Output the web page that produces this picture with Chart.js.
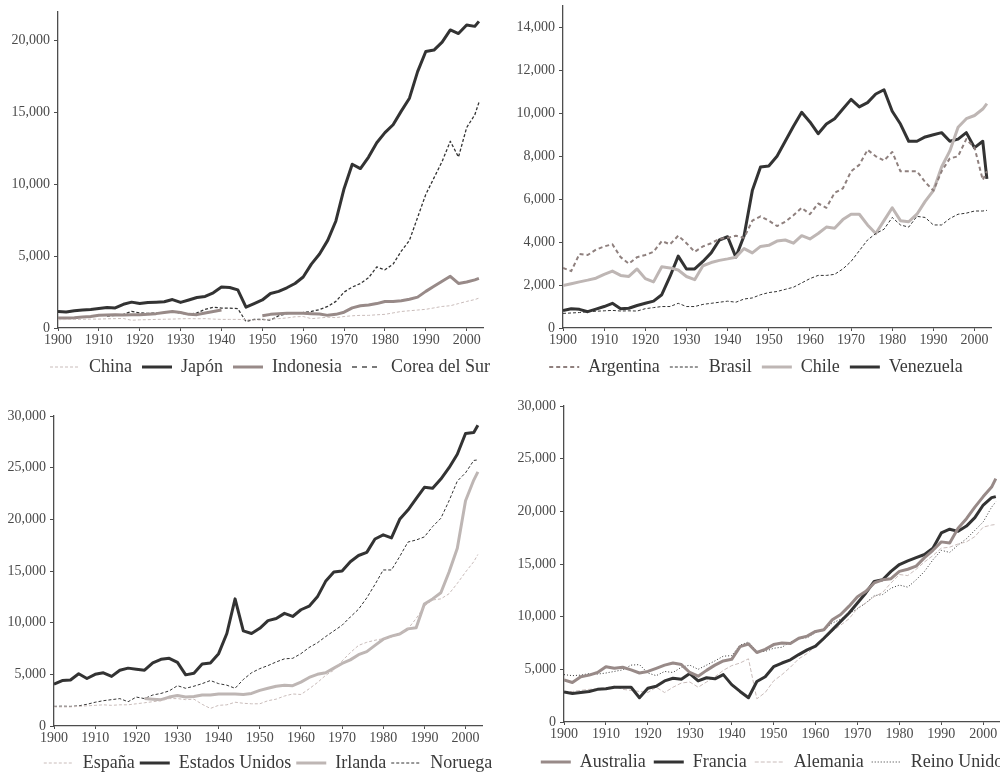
<!DOCTYPE html>
<html lang="es">
<head>
<meta charset="UTF-8">
<title>PIB per cápita, 1900-2003</title>
<script src="https://cdn.jsdelivr.net/npm/chart.js"></script>
<style>
  body { margin: 0; background: #fff; width: 1000px; height: 773px; overflow: hidden; position: relative; }
  canvas { position: absolute; }
</style>
</head>
<body>
<canvas id="asia"></canvas>
<canvas id="latam"></canvas>
<canvas id="anglo"></canvas>
<canvas id="europa"></canvas>
<script>
// years shared by every series (two-year steps, last point 2003)
const years = [1900,1902,1904,1906,1908,1910,1912,1914,1916,1918,
  1920,1922,1924,1926,1928,1930,1932,1934,1936,1938,
  1940,1942,1944,1946,1948,1950,1952,1954,1956,1958,
  1960,1962,1964,1966,1968,1970,1972,1974,1976,1978,
  1980,1982,1984,1986,1988,1990,1992,1994,1996,1998,
  2000,2002,2003];

// tick labels
const decadeTicks = [1900,1910,1920,1930,1940,1950,1960,1970,1980,1990,2000];
const asiaTicks = [0,5000,10000,15000,20000];
const latamTicks = [0,2000,4000,6000,8000,10000,12000,14000];
const richTicks = [0,5000,10000,15000,20000,25000,30000];

// --- panel 1
const china = [580,590,600,610,620,620,640,650,660,540, 570,580,600,610,620,640,650,640,650,620,
  600,600,600,580,560,560,620,650,700,780, 800,650,700,750,720,800,850,880,880,920,
  950,1050,1150,1200,1250,1300,1400,1500,1550,1700, 1850,1980,2080];
const japon = [1150,1120,1200,1250,1290,1350,1420,1400,1650,1800, 1700,1780,1800,1830,1980,1780,1950,2120,2200,2450,
  2850,2820,2650,1450,1700,1950,2400,2550,2800,3100, 3550,4450,5150,6100,7450,9700,11400,11100,11900,12900,
  13600,14150,15100,16000,17850,19250,19350,19900,20750,20500, 21100,21000,21350];
const indonesia = [690,700,720,760,800,880,900,920,900,920, 930,950,1000,1080,1150,1080,950,930,1050,1150,
  1250,null,null,null,null,850,950,1000,1020,1020, 1030,1000,980,880,950,1100,1400,1550,1600,1700,
  1850,1850,1900,2000,2150,2550,2900,3250,3600,3100, 3200,3350,3450];
const corea = [null,null,null,null,null,null,830,880,950,1150, 1050,1020,1040,1080,1150,1040,950,1050,1300,1450,
  1380,1380,1350,450,600,600,550,850,1000,1050, 1080,1150,1280,1500,1850,2500,2850,3100,3500,4250,
  4050,4450,5350,6100,7700,9300,10450,11600,13000,11900, 13950,14850,15700];

// --- panel 2
const argentina = [2800,2650,3450,3400,3650,3800,3900,3300,3000,3300, 3400,3550,4050,3900,4300,3950,3550,3800,3950,4150,
  4200,4300,4200,5000,5200,5000,4750,4950,5250,5600, 5300,5800,5600,6300,6500,7300,7600,8300,8000,7800,
  8200,7300,7300,7300,6800,6400,7300,7900,8000,8800, 8400,6900,7300];
const brasil = [680,700,720,760,780,800,820,790,800,790, 900,950,1000,1000,1150,1000,1000,1100,1150,1200,
  1250,1200,1350,1400,1550,1650,1700,1800,1900,2100, 2300,2450,2450,2500,2750,3100,3600,4100,4400,4600,
  5150,4800,4700,5200,5150,4800,4800,5100,5300,5350, 5450,5450,5480];
const chile = [1975,2060,2150,2230,2320,2500,2650,2450,2400,2750, 2300,2150,2850,2800,2700,2400,2250,2900,3050,3150,
  3220,3300,3700,3500,3800,3850,4050,4100,3950,4300, 4150,4400,4700,4650,5050,5300,5300,4800,4400,5000,
  5600,5000,4950,5300,5900,6400,7500,8250,9350,9750, 9900,10200,10450];
const venezuela = [810,900,870,760,880,1000,1150,900,920,1050, 1150,1250,1550,2400,3350,2750,2750,3100,3500,4100,
  4250,3300,4300,6400,7500,7550,8000,8700,9400,10050, 9600,9050,9500,9750,10200,10650,10300,10500,10900,11100,
  10100,9500,8700,8700,8900,9000,9100,8700,8800,9100, 8400,8700,6950];

// --- panel 3
const espana = [1850,1850,1850,1900,1950,2000,2050,2000,2050,2050, 2150,2250,2350,2450,2650,2650,2550,2600,2100,1700,
  2000,2050,2300,2200,2150,2150,2450,2600,2900,3100, 3050,3600,4200,4900,5400,6300,7100,7800,8100,8300,
  8450,8600,8900,9400,10400,11600,12200,12300,12800,13800, 14900,15900,16600];
const eeuu = [4050,4400,4450,5050,4600,5000,5150,4800,5400,5600, 5500,5400,6100,6450,6550,6150,4950,5100,6000,6100,
  7000,8950,12300,9200,8950,9450,10200,10400,10900,10600, 11250,11600,12500,14000,14900,15000,15900,16500,16800,18100,
  18500,18200,20000,20900,22000,23100,23000,23900,25000,26300, 28300,28400,29100];
const irlanda = [null,null,null,null,null,null,null,null,null,null, null,2650,2600,2550,2800,2950,2800,2850,3000,3000,
  3100,3100,3100,3050,3150,3450,3650,3850,3950,3900, 4250,4700,5000,5150,5600,6050,6400,6900,7200,7800,
  8400,8700,8900,9400,9500,11800,12300,12900,14900,17200, 21800,23800,24600];
const noruega = [1900,1920,1900,1950,2100,2300,2450,2550,2650,2350, 2800,2650,3000,3150,3400,3900,3650,3850,4100,4400,
  4100,3950,3650,4500,5150,5550,5850,6200,6500,6550, 7000,7600,8050,8650,9200,9750,10550,11300,12400,13700,
  15100,15100,16400,17800,18000,18300,19300,20100,21800,23700, 24500,25700,25750];

// --- panel 4
const australia = [4000,3750,4300,4450,4700,5250,5100,5200,4950,4650, 4800,5100,5400,5600,5450,4700,4350,4900,5400,5800,
  5950,7150,7400,6600,6900,7350,7500,7450,7950,8150, 8600,8750,9700,10200,11000,11900,12400,13200,13500,13600,
  14300,14500,14800,15600,16300,17100,17000,18400,19300,20400, 21400,22300,23100];
const francia = [2850,2700,2800,2900,3100,3150,3300,3300,3300,2300, 3200,3400,3900,4150,4050,4600,3900,4200,4100,4500,
  3550,2900,2300,3850,4300,5250,5600,5900,6400,6850, 7200,7950,8750,9550,10350,11300,12250,13350,13500,14300,
  14950,15300,15600,15900,16500,17950,18300,18100,18600,19400, 20600,21300,21400];
const alemania = [2900,2900,3000,3100,3150,3250,3400,3100,3000,2900, 2800,3300,2800,3300,3700,3800,3300,3800,4300,4900,
  5350,5600,6000,2200,2800,3900,4500,5200,6000,6500, 7200,7800,8600,9200,9800,10800,11300,11900,12300,13200,
  14000,13900,14500,15200,15800,16500,16600,16900,17100,17600, 18500,18700,18750];
const reinoUnido = [4500,4400,4450,4600,4550,4650,4800,4950,5400,5450, 4650,4400,4800,4700,5200,5400,5000,5400,5800,6250,
  6300,7300,7600,6700,6700,7000,7100,7600,7900,8000, 8500,8700,9400,9750,10300,10750,11300,12000,12100,12700,
  13000,12800,13500,14300,15400,16300,16100,16800,17400,18200, 19000,20400,20900];

const DARK = '#333333';
const TAUPE = '#988a88';
const LIGHT = '#beb6b4';
const PALE = '#c9bcba';
const INK = '#4a4a4a';

Chart.defaults.font.family = '"Liberation Serif", "Times New Roman", serif';
Chart.defaults.color = INK;

function line(label, values, color, width, dash, legendDash) {
  return {
    label: label,
    data: years.map((yr, i) => ({x: yr, y: values[i]})),
    yAxisID: 'y',
    borderColor: color,
    backgroundColor: color,
    borderWidth: width,
    borderDash: dash || [],
    legendDash: legendDash || dash || [],
    pointRadius: 0,
    tension: 0,
    fill: false,
    spanGaps: false,
    borderJoinStyle: 'round'
  };
}

function drawPanel(id, box, yMax, yTicks, datasets) {
  const fs = 18, pad = box.legendGap, half = 270;
  const cx = box.legendX - half;           // canvas left = legend box left
  const cy = box.top - 20;
  const axisW = box.left - cx;
  const rightW = box.legendX + half - box.right;
  const axisH = box.legendY - box.bottom - pad - fs / 2;
  const w = 2 * half;
  const hRaw = 20 + (box.bottom - box.top) + axisH + fs + pad + 10;
  const h = Math.ceil(hRaw);

  const canvas = document.getElementById(id);
  canvas.width = w;
  canvas.height = h;
  canvas.style.left = cx + 'px';
  canvas.style.top = cy + 'px';

  return new Chart(canvas, {
    type: 'line',
    data: { datasets: datasets },
    options: {
      responsive: false,
      animation: false,
      devicePixelRatio: 1,
      events: [],
      layout: { padding: { left: 0, right: 0, top: 20, bottom: h - hRaw } },
      scales: {
        x: {
          type: 'linear',
          min: 1900,
          max: 2004,
          border: { color: '#4d4d4d', width: 1.3 },
          grid: { drawOnChartArea: false, tickLength: 3, color: '#4d4d4d' },
          ticks: { padding: 1, font: { size: 14 }, color: INK, maxRotation: 0, autoSkip: false,
                   callback: v => String(v) },
          afterBuildTicks: s => { s.ticks = decadeTicks.map(v => ({ value: v })); },
          afterFit: s => { s.height = axisH; }
        },
        y: {
          type: 'linear',
          min: 0,
          max: yMax,
          border: { color: '#4d4d4d', width: 1.3 },
          grid: { drawOnChartArea: false, tickLength: 4, color: '#4d4d4d' },
          ticks: { padding: 4, font: { size: 14 }, color: INK, autoSkip: false,
                   callback: v => v.toLocaleString('en-US') },
          afterBuildTicks: s => { s.ticks = yTicks.map(v => ({ value: v })); },
          afterFit: s => { s.width = axisW; }
        },
        spacer: {
          type: 'linear',
          position: 'right',
          display: true,
          border: { display: false },
          grid: { display: false },
          ticks: { display: false },
          afterFit: s => { s.width = rightW; }
        }
      },
      plugins: {
        tooltip: { enabled: false },
        legend: {
          position: 'bottom',
          labels: {
            usePointStyle: true,
            pointStyle: 'line',
            pointStyleWidth: 30,
            padding: pad,
            color: '#3a3a3a',
            font: { size: fs },
            generateLabels: chart => chart.data.datasets.map((ds, i) => ({
              text: ds.label,
              datasetIndex: i,
              hidden: false,
              pointStyle: 'line',
              strokeStyle: ds.borderColor,
              fillStyle: ds.borderColor,
              lineWidth: ds.borderWidth,
              lineDash: ds.legendDash,
              fontColor: '#3a3a3a'
            }))
          }
        }
      }
    }
  });
}

drawPanel('asia', { left: 58, right: 483, top: 12, bottom: 328, legendX: 270, legendY: 367, legendGap: 10 }, 22000, asiaTicks, [
  line('China', china, PALE, 1, [3, 2]),
  line('Japón', japon, DARK, 3),
  line('Indonesia', indonesia, TAUPE, 3),
  line('Corea del Sur', corea, DARK, 1.3, [3, 2], [5, 5])
]);

drawPanel('latam', { left: 563, right: 991, top: 6, bottom: 328, legendX: 756, legendY: 367, legendGap: 10 }, 15000, latamTicks, [
  line('Argentina', argentina, '#8f807e', 2, [4, 3]),
  line('Brasil', brasil, DARK, 1, [3, 2]),
  line('Chile', chile, LIGHT, 3),
  line('Venezuela', venezuela, DARK, 3)
]);

drawPanel('anglo', { left: 54, right: 482, top: 416, bottom: 726, legendX: 268, legendY: 763, legendGap: 5 }, 30000, richTicks, [
  line('España', espana, PALE, 1, [3, 2]),
  line('Estados Unidos', eeuu, DARK, 3),
  line('Irlanda', irlanda, LIGHT, 3),
  line('Noruega', noruega, DARK, 1, [3, 2])
]);

drawPanel('europa', { left: 564, right: 1000, top: 406, bottom: 722, legendX: 772, legendY: 762, legendGap: 8 }, 30000, richTicks, [
  line('Australia', australia, TAUPE, 3),
  line('Francia', francia, DARK, 3),
  line('Alemania', alemania, PALE, 1, [4, 2]),
  line('Reino Unido', reinoUnido, DARK, 1, [1, 2])
]);
</script>
</body>
</html>
